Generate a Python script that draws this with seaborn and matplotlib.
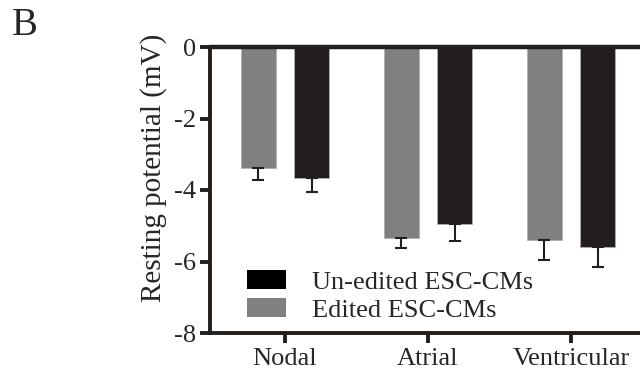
import numpy as np
import pandas as pd
import seaborn as sns
import matplotlib.pyplot as plt
from matplotlib.patches import Patch

# Resting potential per cell type (mean and SEM)
cell_types = ["Nodal", "Atrial", "Ventricular"]
groups = ["Edited ESC-CMs", "Un-edited ESC-CMs"]
edited_mean = [-3.38, -5.34, -5.40]
edited_sem = [0.34, 0.28, 0.56]
unedited_mean = [-3.67, -4.95, -5.59]
unedited_sem = [0.38, 0.48, 0.56]
y_ticks = [0, -2, -4, -6, -8]

GRAY = "#808080"
DARK = "#221e1c"

df = pd.DataFrame({
    "cell": cell_types * 2,
    "group": [groups[0]] * 3 + [groups[1]] * 3,
    "mean": edited_mean + unedited_mean,
    "sem": edited_sem + unedited_sem,
})

sns.set_style("ticks")
plt.rcParams["font.family"] = ["Liberation Serif", "DejaVu Serif"]

fig = plt.figure(figsize=(6.4, 3.76), dpi=100)
ax = fig.add_axes([210 / 640, 43 / 376, 435 / 640, 286 / 376])

sns.barplot(data=df, x="cell", y="mean", hue="group", hue_order=groups,
            order=cell_types, palette=[GRAY, DARK], width=0.75, gap=0.35,
            errorbar=None, legend=False, edgecolor="#b0b0b0", linewidth=0.6,
            ax=ax)

# one-sided (downward) error bars, seaborn draws patches hue by hue
for patch, (_, row) in zip(ax.patches, df.iterrows()):
    xc = patch.get_x() + patch.get_width() / 2
    ax.errorbar(xc, row["mean"], yerr=[[row["sem"]], [0]], fmt="none",
                ecolor=DARK, elinewidth=1.5, capsize=4.3, capthick=1.5,
                zorder=1)

ax.axhline(0, color=DARK, lw=3.2, zorder=5, clip_on=False)
ax.set_ylim(-8, 0)
ax.set_xlim(-0.524, 2.518)
ax.set_yticks(y_ticks)
ax.set_yticklabels([str(t) for t in y_ticks])
ax.set_xlabel("")
ax.set_ylabel("Resting potential (mV)", fontsize=21)
ax.yaxis.set_label_coords(-0.099, 0.577)

sns.despine(ax=ax, top=True, right=True)
for side in ["left", "bottom"]:
    ax.spines[side].set_linewidth(2.8)
    ax.spines[side].set_color(DARK)
ax.tick_params(axis="both", labelsize=19, width=2.8, length=7, color=DARK,
               direction="out")
ax.tick_params(axis="y", pad=3)
ax.tick_params(axis="x", pad=4)

handles = [Patch(facecolor="#000000", edgecolor="none"),
           Patch(facecolor=GRAY, edgecolor="none")]
ax.legend(handles, ["Un-edited ESC-CMs", "Edited ESC-CMs"], loc="upper left",
          bbox_to_anchor=(0.085, 0.221), frameon=False, fontsize=19,
          handlelength=1.48, handleheight=0.76, handletextpad=1.0,
          labelspacing=0.15, borderpad=0, borderaxespad=0)

fig.text(12 / 640, 1 - 35 / 376, "B", fontsize=28, va="baseline", ha="left")

fig.savefig("out.png", dpi=100)
